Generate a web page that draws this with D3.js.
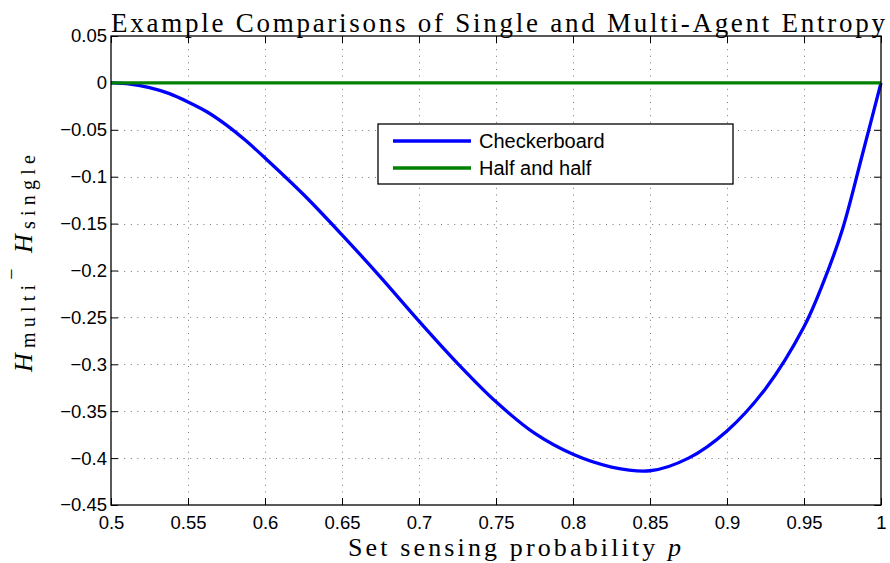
<!DOCTYPE html>
<html>
<head>
<meta charset="utf-8">
<script src="https://cdn.jsdelivr.net/npm/d3@7/dist/d3.min.js"></script>
<style>
  html, body { margin: 0; padding: 0; background: #fff; }
  svg { display: block; }
</style>
</head>
<body>
<svg id="chart" width="890" height="563"></svg>
<script>
// ---- data ----
const checkerP = [0.5, 0.5125, 0.525, 0.5375, 0.55, 0.5625, 0.575, 0.5875, 0.6, 0.625, 0.65, 0.675, 0.7, 0.725, 0.75, 0.775, 0.8, 0.825, 0.85, 0.875, 0.9, 0.925, 0.95, 0.9625, 0.975, 0.9875, 1.0];
const checkerH = [0, -0.0013, -0.005, -0.0112, -0.0203, -0.031, -0.045, -0.0615, -0.080, -0.119, -0.162, -0.207, -0.254, -0.299, -0.340, -0.3735, -0.396, -0.4095, -0.4135, -0.400, -0.371, -0.326, -0.260, -0.213, -0.156, -0.079, 0];
const halfP = [0.5, 0.6, 0.7, 0.8, 0.9, 1.0];
const halfH = [0, 0, 0, 0, 0, 0];
const seriesNames = ["Checkerboard", "Half and half"];
const seriesColors = ["#0000ff", "#008000"];
const xTicks = [0.5, 0.55, 0.6, 0.65, 0.7, 0.75, 0.8, 0.85, 0.9, 0.95, 1];
const yTicks = [0.05, 0, -0.05, -0.1, -0.15, -0.2, -0.25, -0.3, -0.35, -0.4, -0.45];
const titleText = "Example Comparisons of Single and Multi-Agent Entropy";
const xLabelText = "Set sensing probability ";

// ---- layout ----
const L = 111, R = 881, T = 36, B = 505;
const svg = d3.select("#chart");
const x = d3.scaleLinear().domain([0.5, 1]).range([L, R]);
const y = d3.scaleLinear().domain([-0.45, 0.05]).range([B, T]);
const fmt = d => String(d).replace("-", "\u2212");
const sans = "'Liberation Sans', Arial, Helvetica, sans-serif";
const serif = "'Liberation Serif', 'Times New Roman', serif";

// grid
const grid = svg.append("g").attr("stroke", "#777").attr("stroke-width", 1)
  .attr("stroke-dasharray", "1,5.6");
grid.selectAll(".gx").data(xTicks.slice(1, -1)).enter().append("line")
  .attr("x1", d => Math.round(x(d)) + 0.5).attr("x2", d => Math.round(x(d)) + 0.5)
  .attr("y1", T).attr("y2", B);
grid.selectAll(".gy").data(yTicks.slice(1, -1)).enter().append("line")
  .attr("y1", d => Math.round(y(d)) + 0.5).attr("y2", d => Math.round(y(d)) + 0.5)
  .attr("x1", L).attr("x2", R);

// axes
const ax = g => g.selectAll(".domain").remove();
svg.append("g").attr("transform", `translate(0,${B})`)
  .call(d3.axisBottom(x).tickValues(xTicks).tickFormat(fmt).tickSizeInner(-7).tickSizeOuter(0).tickPadding(10.5))
  .call(ax)
  .call(g => g.selectAll("text").attr("font-family", sans).attr("font-size", 18.5).attr("fill", "#000"))
  .call(g => g.selectAll("line").attr("stroke", "#000"));
svg.append("g").attr("transform", `translate(0,${T})`)
  .call(d3.axisTop(x).tickValues(xTicks).tickFormat("").tickSizeInner(-7).tickSizeOuter(0))
  .call(ax).call(g => g.selectAll("line").attr("stroke", "#000"));
svg.append("g").attr("transform", `translate(${L},0)`)
  .call(d3.axisLeft(y).tickValues(yTicks).tickFormat(fmt).tickSizeInner(-7).tickSizeOuter(0).tickPadding(4))
  .call(ax)
  .call(g => g.selectAll("text").attr("font-family", sans).attr("font-size", 18.5).attr("fill", "#000"))
  .call(g => g.selectAll("line").attr("stroke", "#000"));
svg.append("g").attr("transform", `translate(${R},0)`)
  .call(d3.axisRight(y).tickValues(yTicks).tickFormat("").tickSizeInner(-7).tickSizeOuter(0))
  .call(ax).call(g => g.selectAll("line").attr("stroke", "#000"));
svg.selectAll(".tick text").attr("font-family", sans).attr("font-size", 18.5);

// lines
const line = d3.line().x(d => x(d[0])).y(d => y(d[1])).curve(d3.curveCatmullRom.alpha(0.5));
svg.append("path").datum(checkerP.map((p, i) => [p, checkerH[i]]))
  .attr("d", line).attr("fill", "none").attr("stroke", seriesColors[0]).attr("stroke-width", 3.3);
svg.append("path").datum(halfP.map((p, i) => [p, halfH[i]]))
  .attr("d", line).attr("fill", "none").attr("stroke", seriesColors[1]).attr("stroke-width", 3.3);

// frame
svg.append("rect").attr("x", L).attr("y", T).attr("width", R - L).attr("height", B - T)
  .attr("fill", "none").attr("stroke", "#000").attr("stroke-width", 1.3);

// legend
const lg = svg.append("g").attr("transform", "translate(378,124)");
lg.append("rect").attr("width", 355).attr("height", 60).attr("fill", "#fff")
  .attr("stroke", "#000").attr("stroke-width", 1.3);
seriesNames.forEach((name, i) => {
  const yy = 17 + i * 27;
  lg.append("line").attr("x1", 15).attr("x2", 93).attr("y1", yy).attr("y2", yy)
    .attr("stroke", seriesColors[i]).attr("stroke-width", 3.3);
  lg.append("text").attr("x", 101).attr("y", yy + 7).text(name)
    .attr("font-family", sans).attr("font-size", 20).attr("fill", "#000");
});

// title
svg.append("text").attr("x", 111).attr("y", 32).text(titleText)
  .attr("font-family", serif).attr("font-size", 27).attr("fill", "#000")
  .attr("textLength", 774).attr("lengthAdjust", "spacing");

// x label
const xl = svg.append("text").attr("x", 348).attr("y", 556)
  .attr("font-family", serif).attr("font-size", 26).attr("fill", "#000")
  .attr("textLength", 333).attr("lengthAdjust", "spacing");
xl.append("tspan").text(xLabelText);
xl.append("tspan").attr("font-style", "italic").text("p");

// y label
const yl = svg.append("g").attr("transform", "translate(32,372) rotate(-90)");
const yt = yl.append("text").attr("x", 0).attr("y", 0)
  .attr("font-family", serif).attr("font-size", 26).attr("fill", "#000");
yt.append("tspan").attr("font-style", "italic").text("H");
yt.append("tspan").attr("font-size", 20).attr("dy", 3).text("multi");
yt.append("tspan").attr("font-size", 20).attr("dy", -17).text("\u2212");
yt.append("tspan").attr("dy", 14).text("\u2009");
yt.append("tspan").attr("font-style", "italic").text("H");
yt.append("tspan").attr("font-size", 20).attr("dy", 3).text("single");
const nChars = yt.text().length;
const w0 = yt.node().getComputedTextLength();
yt.attr("letter-spacing", Math.max(0, (222 - w0) / nChars));
</script>
</body>
</html>
